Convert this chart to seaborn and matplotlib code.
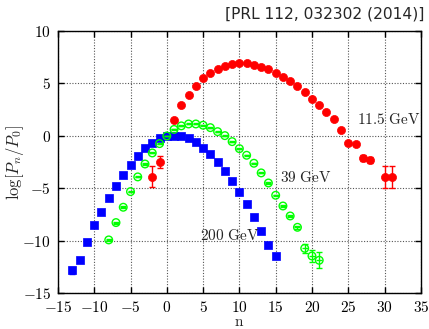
import numpy as np
import pandas as pd
import matplotlib
matplotlib.use("Agg")
import matplotlib.pyplot as plt
import seaborn as sb
from matplotlib.ticker import FuncFormatter, MultipleLocator

# 11.5 GeV (red)
n_115 = [-2, -1, 1, 2, 3, 4, 5, 6, 7, 8, 9, 10, 11, 12, 13, 14, 15, 16, 17,
         18, 19, 20, 21, 22, 23, 24, 25, 26, 27, 28, 30, 31]
v_115 = [-3.87, -2.5, 1.52, 2.9, 3.9, 4.8, 5.5, 6.0, 6.38, 6.67, 6.87, 6.95,
         6.92, 6.79, 6.6, 6.35, 6.03, 5.62, 5.24, 4.73, 4.16, 3.52, 2.92, 2.29,
         1.62, 0.55, -0.70, -0.79, -2.08, -2.29, -3.87, -3.87]
e_115 = [1.03, 0.55, 0.05, 0.05, 0.05, 0.05, 0.05, 0.05, 0.05, 0.05, 0.05, 0.05,
         0.05, 0.05, 0.05, 0.05, 0.05, 0.05, 0.05, 0.05, 0.05, 0.05, 0.05, 0.05,
         0.05, 0.08, 0.12, 0.12, 0.3, 0.3, 1.05, 1.05]

# 39 GeV (green)
n_39 = list(range(-8, 22))
v_39 = [-9.9, -8.25, -6.79, -5.3, -3.9, -2.67, -1.62, -0.73, 0.0, 0.62, 0.96,
        1.14, 1.14, 1.02, 0.79, 0.41, 0.03, -0.54, -1.21, -1.84, -2.6, -3.52,
        -4.48, -5.65, -6.67, -7.62, -8.7, -10.7, -11.43, -11.84]
e_39 = [0.12, 0.1, 0.08, 0.05, 0.05, 0.05, 0.05, 0.05, 0.0, 0.05, 0.05,
        0.05, 0.05, 0.05, 0.05, 0.05, 0.05, 0.05, 0.05, 0.05, 0.05, 0.05,
        0.05, 0.05, 0.08, 0.1, 0.15, 0.4, 0.6, 0.75]

# 200 GeV (blue)
n_200 = list(range(-13, 16))
v_200 = [-12.8, -11.84, -10.12, -8.5, -7.27, -5.94, -4.79, -3.75, -2.8, -1.94,
         -1.17, -0.7, -0.22, 0.0, 0.03, 0.0, -0.19, -0.57, -1.17, -1.75, -2.5,
         -3.33, -4.29, -5.37, -6.51, -7.71, -9.08, -10.38, -11.46]
e_200 = [0.3] + [0.05] * 28

sb.set_style("ticks")
plt.rcParams["font.family"] = ["DejaVu Sans"]
plt.rcParams["mathtext.fontset"] = "cm"

fig = plt.figure(figsize=(4.29, 3.29), dpi=100)
ax = fig.add_axes([0.135, 0.108, 0.846, 0.798])

red, green, blue = "#ff0000", "#00ff00", "#0000ff"

df_b = pd.DataFrame({"n": n_200, "v": v_200})
df_g = pd.DataFrame({"n": n_39, "v": v_39})
df_r = pd.DataFrame({"n": n_115, "v": v_115})

ax.errorbar(n_200, v_200, yerr=e_200, fmt="none", ecolor=blue, elinewidth=1, capsize=2, zorder=3)
sb.scatterplot(data=df_b, x="n", y="v", marker="s", s=38, color=blue, edgecolor=blue,
               linewidth=0.5, ax=ax, zorder=4)

ax.errorbar(n_39, v_39, yerr=e_39, fmt="none", ecolor=green, elinewidth=1, capsize=2, zorder=5)
sb.scatterplot(data=df_g, x="n", y="v", marker="o", s=30, facecolor="none", edgecolor=green,
               linewidth=1.0, ax=ax, zorder=6)
sb.scatterplot(data=df_g, x="n", y="v", marker="_", s=18, color=green,
               linewidth=1.0, ax=ax, zorder=6)

ax.errorbar(n_115, v_115, yerr=e_115, fmt="none", ecolor=red, elinewidth=1, capsize=2, zorder=7)
sb.scatterplot(data=df_r, x="n", y="v", marker="o", s=34, color=red, edgecolor=red,
               linewidth=0.5, ax=ax, zorder=8)

ax.set_xlim(-15, 35)
ax.set_ylim(-15, 10)
ax.xaxis.set_major_locator(MultipleLocator(5))
ax.yaxis.set_major_locator(MultipleLocator(5))
fmt = FuncFormatter(lambda x, pos: f"${x:g}$")
ax.xaxis.set_major_formatter(fmt)
ax.yaxis.set_major_formatter(fmt)
ax.tick_params(direction="in", top=True, right=True, length=4, width=1,
               labelsize=11, pad=5, colors="black")
ax.grid(True, linestyle=(0, (1, 1.5)), color="#555555", linewidth=0.8)
for sp in ax.spines.values():
    sp.set_linewidth(1.0)
    sp.set_color("black")
    sp.set_zorder(10)

ax.set_xlabel(r"$\mathrm{n}$", fontsize=11, labelpad=-1)
ax.set_ylabel(r"$\log[P_n/P_0]$", fontsize=12)
ax.yaxis.set_label_coords(-0.088, 0.5)

ax.text(26.2, 1.6, r"$\mathrm{11.5\ GeV}$", fontsize=11, va="center", ha="left", zorder=9)
ax.text(15.6, -3.97, r"$\mathrm{39\ GeV}$", fontsize=11, va="center", ha="left", zorder=9)
ax.text(4.55, -9.5, r"$\mathrm{200\ GeV}$", fontsize=11, va="center", ha="left", zorder=9)

fig.text(0.99, 0.957, "[PRL 112, 032302 (2014)]", ha="right", va="center",
         fontsize=11.2, family="DejaVu Sans")

fig.savefig("out.png", dpi=100)
